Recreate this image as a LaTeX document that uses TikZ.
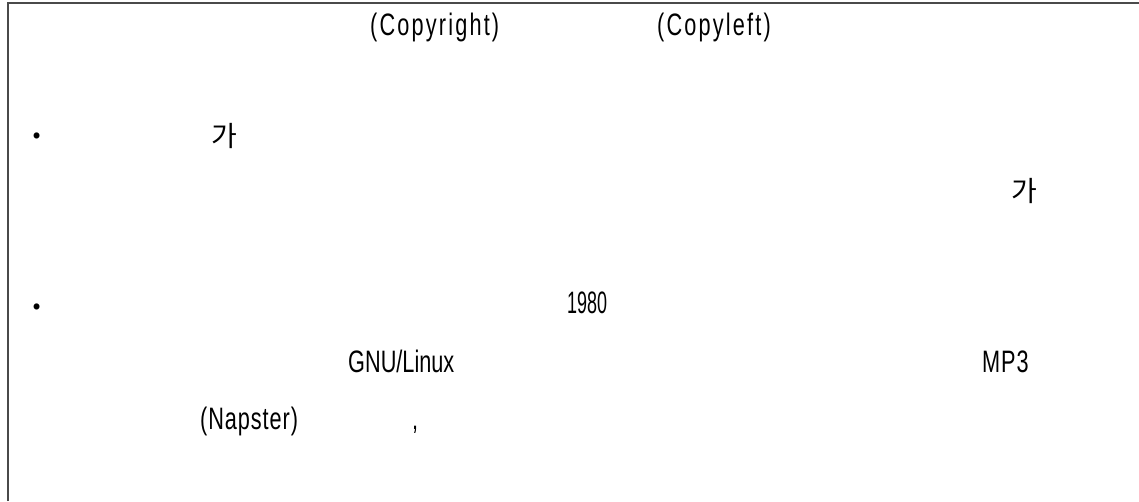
\documentclass[tikz,border=0pt]{standalone}
\usepackage{fontspec}
\newfontfamily\latfont[FakeStretch=0.7,LetterSpace=3]{Liberation Sans}
\newfontfamily\widefont[FakeStretch=0.7,LetterSpace=7]{Liberation Sans}
\newfontfamily\tightfont[FakeStretch=0.7]{Liberation Sans}
\newfontfamily\numfont[FakeStretch=0.58]{Liberation Sans}
\newfontfamily\kofont{Noto Sans CJK KR}
\definecolor{framegray}{HTML}{4A4A4A}

\tikzset{lbl/.style={anchor=base west, inner sep=0pt, font=\fontsize{31}{36}\latfont},
	title/.style={lbl, font=\fontsize{31}{36}\widefont},
	tight/.style={lbl, font=\fontsize{31}{36}\tightfont},
	num/.style={lbl, font=\fontsize{31}{36}\numfont},
	kor/.style={anchor=base west, inner sep=0pt, font=\fontsize{28}{34}\kofont},
	frame/.style={draw=framegray, line width=2pt}}

\begin{document}
\begin{tikzpicture}[x=1pt, y=-1pt]
			\useasboundingbox (0,0) rectangle (1139,501);
			% Draw frame
			\draw[frame] (8,501) -- (8,3) -- (1139,3);
			
			% Define title labels
			\node[title] (copyright) at (370,35) {(Copyright)};
			\node[title] (copyleft) at (657,35) {(Copyleft)};
			
			% Define first item
			\node[kor] (dotA) at (28,146) {\textbf{·}};
			\node[kor] (gaA) at (211,146) {가};
			\node[kor] (gaB) at (1011,201) {가};
			
			% Define second item
			\node[kor] (dotB) at (28,317) {\textbf{·}};
			\node[num] (year) at (567,313) {1980};
			\node[tight] (gnu) at (348,372) {GNU/Linux};
			\node[lbl] (mp) at (982,372) {MP3};
			\node[lbl] (napster) at (200,429) {(Napster)};
			\node[lbl] (comma) at (412,429) {,};
		\end{tikzpicture}
\end{document}
